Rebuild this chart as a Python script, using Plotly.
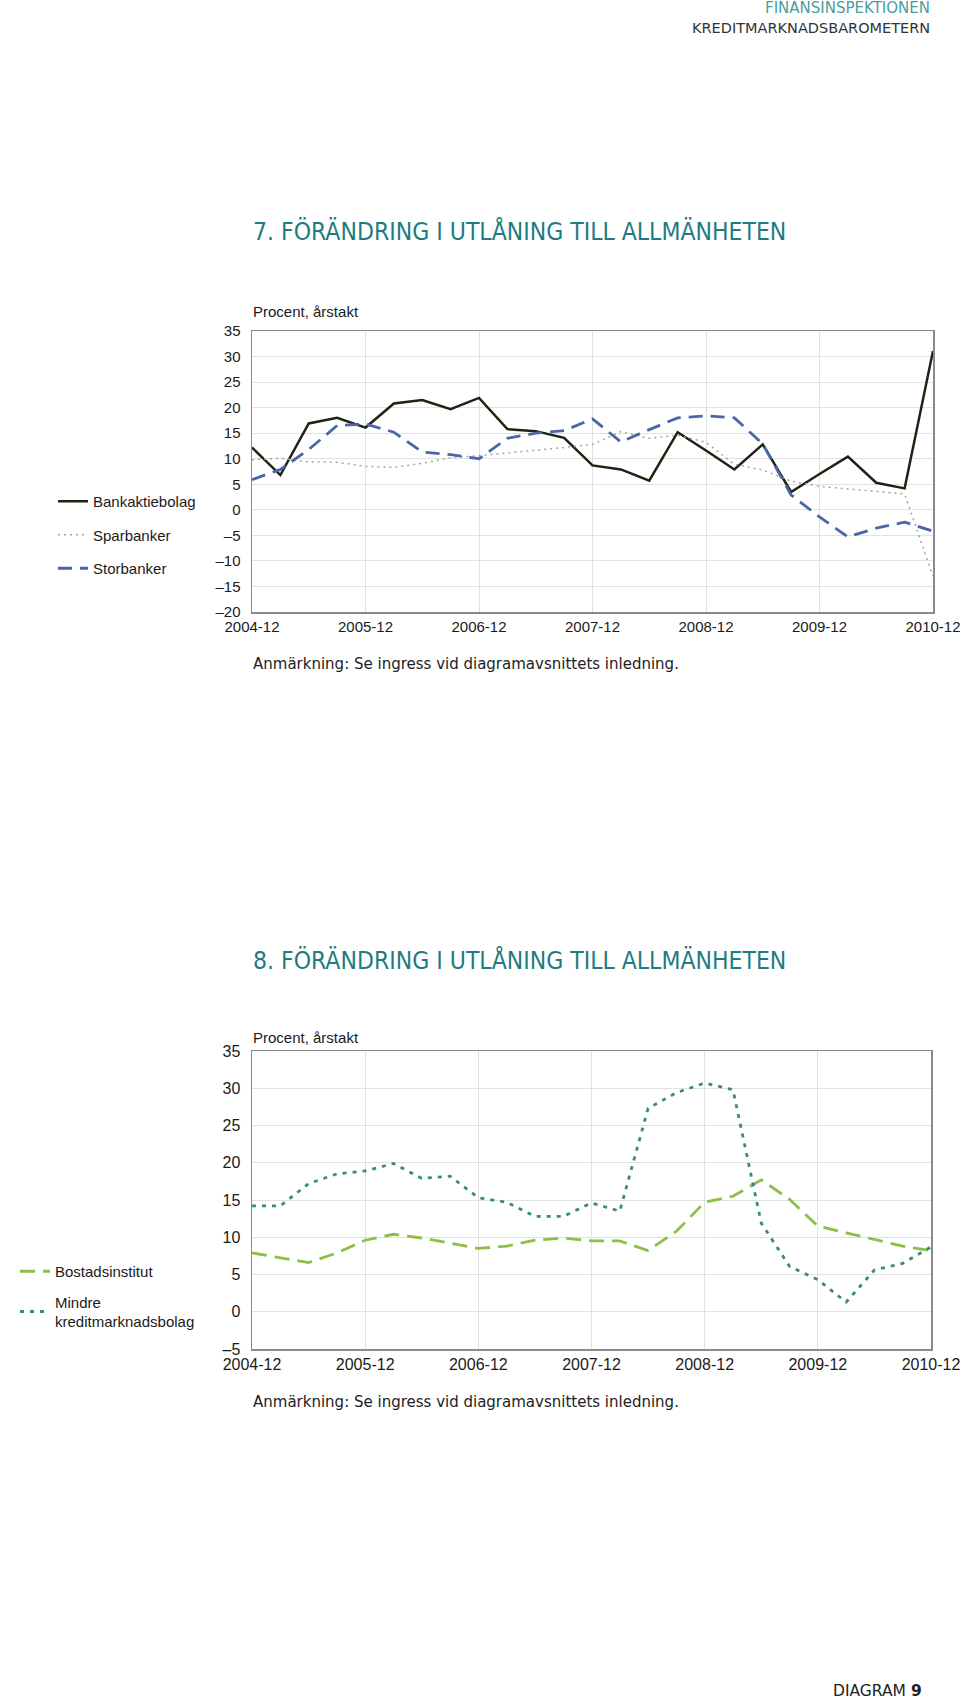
import plotly.graph_objects as go

# ---------------- data ----------------
quarters = list(range(25))  # 2004-12 ... 2010-12, quarterly
tick_pos = [0, 4, 8, 12, 16, 20, 24]
tick_labels = ["2004-12", "2005-12", "2006-12", "2007-12", "2008-12", "2009-12", "2010-12"]

bankaktiebolag = [12.2, 6.8, 16.9, 18.0, 16.1, 20.8, 21.5, 19.7, 21.9, 15.8, 15.4, 14.1, 8.7,
                  7.9, 5.7, 15.2, 11.6, 7.9, 12.8, 3.5, 7.0, 10.4, 5.3, 4.2, 31.1]
sparbanker = [9.8, 10.1, 9.4, 9.3, 8.5, 8.3, 9.1, 10.2, 10.6, 11.1, 11.7, 12.2, 12.8,
              15.3, 14.0, 14.6, 13.2, 8.9, 7.8, 5.6, 4.6, 4.1, 3.6, 3.1, -13.0]
storbanker = [5.9, 7.9, 11.8, 16.5, 16.8, 15.2, 11.3, 10.8, 10.0, 14.0, 15.0, 15.5, 17.8,
              13.3, 15.7, 18.0, 18.4, 18.0, 12.9, 2.9, -1.4, -5.3, -3.6, -2.4, -4.2]

bostadsinstitut = [7.9, 7.3, 6.6, 7.9, 9.6, 10.4, 9.9, 9.2, 8.5, 8.8, 9.6, 9.9, 9.5,
                   9.5, 8.2, 10.8, 14.7, 15.5, 17.7, 15.1, 11.5, 10.6, 9.7, 8.8, 8.2]
mindre_kmb = [14.2, 14.2, 17.2, 18.5, 18.9, 19.9, 17.9, 18.2, 15.3, 14.7, 12.8, 12.8, 14.6,
              13.5, 27.3, 29.4, 30.7, 29.8, 11.9, 6.1, 4.3, 1.3, 5.6, 6.5, 8.7]

W, H = 960, 1706
FONT = "Liberation Sans, Arial, sans-serif"
NARROW = "Liberation Sans Narrow, DejaVu Sans Condensed, Arial Narrow, sans-serif"
TEAL = "#1f7b82"
TXT = "#1a1a1a"


def px(x):
    return x / W


def py(y):
    return 1 - y / H


fig = go.Figure()

# chart 1
fig.add_trace(go.Scatter(x=quarters, y=bankaktiebolag, name="Bankaktiebolag", mode="lines",
                         line=dict(color="#1e2312", width=2.5), xaxis="x", yaxis="y",
                         legend="legend", legendgroup="a"))
fig.add_trace(go.Scatter(x=quarters, y=sparbanker, name="Sparbanker", mode="lines",
                         line=dict(color="#a3a3a3", width=1.5, dash="2px,4px"), xaxis="x", yaxis="y",
                         legend="legend", legendgroup="b"))
fig.add_trace(go.Scatter(x=quarters, y=storbanker, name="Storbanker", mode="lines",
                         line=dict(color="#4a66a6", width=2.8, dash="14px,8px"), xaxis="x", yaxis="y",
                         legend="legend", legendgroup="c"))

# chart 2
fig.add_trace(go.Scatter(x=quarters, y=bostadsinstitut, name="Bostadsinstitut", mode="lines",
                         line=dict(color="#8cbf45", width=2.8, dash="15px,8px"), xaxis="x2", yaxis="y2",
                         legend="legend2", legendgroup="d"))
fig.add_trace(go.Scatter(x=quarters, y=mindre_kmb, name="Mindre<br>kreditmarknadsbolag", mode="lines",
                         line=dict(color="#368c80", width=2.8, dash="4px,6px"), xaxis="x2", yaxis="y2",
                         legend="legend2", legendgroup="e"))

axis_common = dict(showgrid=True, gridcolor="#e1e1e1", gridwidth=1, showline=True, mirror=True,
                   linecolor="#8a8a8a", linewidth=1.5, zeroline=False, ticks="", automargin=False)

fig.update_layout(
    width=W, height=H,
    margin=dict(l=0, r=0, t=0, b=0, autoexpand=False),
    paper_bgcolor="white", plot_bgcolor="white",
    hovermode=False,
    xaxis=dict(domain=[px(252), px(933)], anchor="y", range=[0, 24], tickvals=tick_pos,
               ticktext=tick_labels, ticklabeloverflow="allow",
               tickfont=dict(family=FONT, size=15, color=TXT), **axis_common),
    yaxis=dict(domain=[py(612), py(331)], anchor="x", range=[-20, 35],
               tickvals=list(range(-20, 36, 5)),
               ticktext=[("\u2013" + str(-v)) if v < 0 else str(v) for v in range(-20, 36, 5)],
               ticklabelstandoff=7, tickfont=dict(family=FONT, size=15, color=TXT), **axis_common),
    xaxis2=dict(domain=[px(252), px(931)], anchor="y2", range=[0, 24], tickvals=tick_pos,
                ticktext=tick_labels, ticklabeloverflow="allow",
                tickfont=dict(family=FONT, size=16, color=TXT), **axis_common),
    yaxis2=dict(domain=[py(1349), py(1051)], anchor="x2", range=[-5, 35],
                tickvals=list(range(-5, 36, 5)),
                ticktext=[("\u2013" + str(-v)) if v < 0 else str(v) for v in range(-5, 36, 5)],
                ticklabelstandoff=7, tickfont=dict(family=FONT, size=16, color=TXT), **axis_common),
    legend=dict(x=px(53), y=py(485), xanchor="left", yanchor="top", bgcolor="rgba(0,0,0,0)",
                font=dict(family=FONT, size=15, color=TXT), tracegroupgap=11, itemwidth=30),
    legend2=dict(x=px(15), y=py(1255), xanchor="left", yanchor="top", bgcolor="rgba(0,0,0,0)",
                 font=dict(family=FONT, size=15, color=TXT), tracegroupgap=8, itemwidth=30),
    showlegend=True,
)

annotations = [
    dict(text="FINANSINSPEKTIONEN", x=px(932), y=py(8), xanchor="right", yanchor="middle",
         font=dict(family="DejaVu Sans, sans-serif", size=15, color="#4a9ea0")),
    dict(text="KREDITMARKNADSBAROMETERN", x=px(932), y=py(28), xanchor="right", yanchor="middle",
         font=dict(family="DejaVu Sans, sans-serif", size=14.5, color="#333333")),
    dict(text="7. FÖRÄNDRING I UTLÅNING TILL ALLMÄNHETEN", x=px(251), y=py(231), xanchor="left",
         yanchor="middle", font=dict(family=NARROW, size=24.5, color=TEAL)),
    dict(text="Procent, årstakt", x=px(251), y=py(312), xanchor="left", yanchor="middle",
         font=dict(family=FONT, size=15, color=TXT)),
    dict(text="Anmärkning: Se ingress vid diagramavsnittets inledning.", x=px(251), y=py(664),
         xanchor="left", yanchor="middle", font=dict(family="DejaVu Sans, sans-serif", size=15, color="#222222")),
    dict(text="8. FÖRÄNDRING I UTLÅNING TILL ALLMÄNHETEN", x=px(251), y=py(960), xanchor="left",
         yanchor="middle", font=dict(family=NARROW, size=24.5, color=TEAL)),
    dict(text="Procent, årstakt", x=px(251), y=py(1037), xanchor="left", yanchor="middle",
         font=dict(family=FONT, size=15, color=TXT)),
    dict(text="Anmärkning: Se ingress vid diagramavsnittets inledning.", x=px(251), y=py(1402),
         xanchor="left", yanchor="middle", font=dict(family="DejaVu Sans, sans-serif", size=15, color="#222222")),
    dict(text="DIAGRAM <b>9</b>", x=px(924), y=py(1691), xanchor="right", yanchor="middle",
         font=dict(family="DejaVu Sans, sans-serif", size=15.5, color="#222222")),
]
for a in annotations:
    a.update(xref="paper", yref="paper", showarrow=False)
fig.update_layout(annotations=annotations)

fig.write_html("out.html", config={"displayModeBar": False, "staticPlot": True},
               post_script="document.body.style.margin='0px';")
